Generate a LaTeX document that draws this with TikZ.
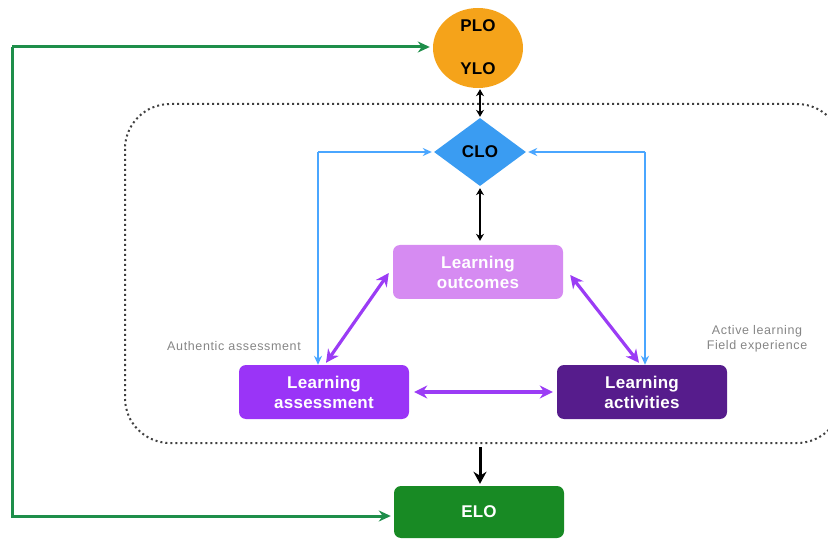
\documentclass[tikz,border=0pt]{standalone}
\usepackage{fontspec}
\setmainfont{Liberation Sans}
\usetikzlibrary{arrows.meta,shapes.geometric,calc}
\definecolor{plo}{HTML}{F5A31A}
\definecolor{clo}{HTML}{3A9CF2}
\definecolor{lout}{HTML}{D68BF2}
\definecolor{lass}{HTML}{9A34F7}
\definecolor{lact}{HTML}{561C8C}
\definecolor{elo}{HTML}{188A24}
\definecolor{bline}{HTML}{4AA6FF}
\definecolor{parr}{HTML}{9B3CF5}
\definecolor{gline}{HTML}{1E8E4A}
\definecolor{lbl}{HTML}{858585}
\tikzset{
  bigtxt/.style={font=\fontsize{17}{20}\selectfont\bfseries\addfontfeature{LetterSpace=1.5}},
  box/.style={rectangle, rounded corners=7pt, minimum width=170pt, minimum height=54pt, align=center, text=white, bigtxt, inner sep=0pt},
  lab/.style={text=lbl, font=\fontsize{12.5}{15}\selectfont\addfontfeature{LetterSpace=5}, align=center, inner sep=0pt},
  blk/.style={draw=black, line width=2pt, {Stealth[length=7pt,width=8pt]}-{Stealth[length=7pt,width=8pt]}},
  blu/.style={draw=bline, line width=1.6pt, -{Stealth[length=9pt,width=8pt]}},
  pur/.style={draw=parr, line width=3.2pt, {Stealth[length=13pt,width=13pt]}-{Stealth[length=13pt,width=13pt]}},
  grn/.style={draw=gline, line width=3pt, -{Stealth[length=12pt,width=11pt]}}
}
\begin{document}
\begin{tikzpicture}[x=1pt,y=-1pt]
\useasboundingbox (0,0) rectangle (828,540);
% dotted frame
\draw[black!75, line width=2pt, dash pattern=on 2pt off 3pt, rounded corners=45pt] (125,104) rectangle (842,443);
\coordinate (frameb) at (480,447);
% nodes
\node[ellipse, fill=plo, minimum width=90pt, minimum height=80pt, inner sep=0pt] (plo) at (478,48) {};
\node[bigtxt, inner sep=0pt] (plot) at (478,26) {PLO};
\node[bigtxt, inner sep=0pt] (ylot) at (478,69) {YLO};
\node[diamond, fill=clo, minimum width=92pt, minimum height=68pt, inner sep=0pt, bigtxt] (clo) at (480,152) {CLO};
\node[box, fill=lout] (lo) at (478,272) {Learning\\outcomes};
\node[box, fill=lass] (la) at (324,392) {Learning\\assessment};
\node[box, fill=lact] (lac) at (642,392) {Learning\\activities};
\node[box, fill=elo, minimum height=52pt] (elo) at (479,512) {ELO};
% labels
\node[lab] (auth) at (234,346) {Authentic assessment};
\node[lab] (act) at (757,339) {Active learning\\Field experience};
% black arrows
\draw[blk] ($(plo.south)+(2,1)$) -- ($(clo.north)+(0,-1)$);
\draw[blk] ($(clo.south)+(0,2)$) -- ($(lo.north)+(2,-4)$);
\draw[draw=black, line width=3pt, -{Stealth[length=12pt,width=13pt]}] (frameb) -- ($(elo.north)+(1,-2)$);
% blue connectors
\coordinate (bl) at (318,152);
\coordinate (br) at (645,152);
\draw[blu] (bl) -- ($(clo.west)+(-2,0)$);
\draw[blu] (bl) -- (la.north -| bl);
\draw[blu] (br) -- ($(clo.east)+(2,0)$);
\draw[blu] (br) -- (lac.north -| br);
% purple arrows
\draw[pur] ($(lo.west)+(-4,1)$) -- ($(la.north)+(2,-2)$);
\draw[pur] ($(lo.east)+(7,3)$) -- ($(lac.north)+(-3,-2)$);
\draw[pur] ($(la.east)+(5,0)$) -- ($(lac.west)+(-4,0)$);
% green connectors
\coordinate (g1) at (12,47);
\coordinate (g2) at (12,516);
\draw[grn] (g1) -- ($(plo.west |- g1)+(-3,0)$);
\draw[grn] (g1) -- (g2) -- ($(elo.west |- g2)+(-3,0)$);
\end{tikzpicture}
\end{document}
